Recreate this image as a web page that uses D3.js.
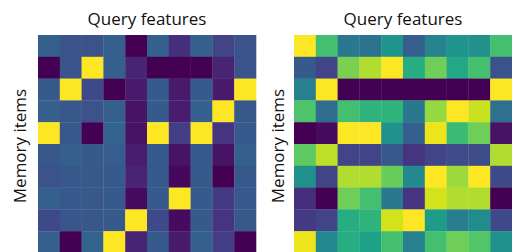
<!doctype html>
<html>
<head>
<meta charset="utf-8">
<script src="https://cdn.jsdelivr.net/npm/d3@7"></script>
<style>
  body { margin: 0; background: #fff; }
  text { font-family: "Open Sans", "Noto Sans", sans-serif; fill: #111; }
</style>
</head>
<body>
<svg width="512" height="252"></svg>
<script>
  // attention-like weights, rows = memory items, cols = query features
  let leftVals = [
    [0.30, 0.25, 0.25, 0.30, 0.00, 0.30, 0.13, 0.30, 0.20, 0.25],
    [0.00, 0.25, 1.00, 0.30, 0.10, 0.00, 0.00, 0.00, 0.10, 0.25],
    [0.28, 1.00, 0.22, 0.00, 0.07, 0.28, 0.07, 0.28, 0.07, 1.00],
    [0.30, 0.27, 0.25, 0.30, 0.05, 0.28, 0.08, 0.30, 1.00, 0.27],
    [1.00, 0.27, 0.00, 0.32, 0.05, 1.00, 0.18, 1.00, 0.15, 0.28],
    [0.27, 0.30, 0.28, 0.29, 0.08, 0.28, 0.05, 0.28, 0.05, 0.30],
    [0.25, 0.27, 0.27, 0.28, 0.10, 0.28, 0.02, 0.28, 0.00, 0.27],
    [0.30, 0.27, 0.27, 0.28, 0.03, 0.28, 1.00, 0.28, 0.17, 0.27],
    [0.22, 0.26, 0.27, 0.28, 1.00, 0.22, 0.03, 0.28, 0.15, 0.27],
    [0.30, 0.00, 0.32, 1.00, 0.10, 0.28, 0.07, 0.30, 0.18, 0.00]
  ]

  let rightVals = [
    [1.00, 0.70, 0.40, 0.38, 0.52, 0.30, 0.45, 0.52, 0.50, 0.70],
    [0.28, 0.20, 0.80, 0.88, 1.00, 0.62, 0.78, 0.60, 0.70, 0.25],
    [0.43, 1.00, 0.00, 0.00, 0.00, 0.00, 0.00, 0.00, 0.00, 1.00],
    [0.72, 0.35, 0.70, 0.65, 0.65, 0.40, 0.84, 1.00, 0.92, 0.37],
    [0.00, 0.03, 1.00, 1.00, 0.50, 0.30, 0.97, 0.68, 0.78, 0.05],
    [0.75, 0.90, 0.20, 0.20, 0.27, 0.15, 0.20, 0.23, 0.23, 0.88],
    [0.50, 0.20, 0.88, 0.88, 0.77, 0.47, 1.00, 0.85, 1.00, 0.22],
    [0.13, 0.00, 0.78, 0.70, 0.40, 0.15, 0.93, 0.88, 0.88, 0.00],
    [0.17, 0.20, 0.62, 0.65, 0.93, 1.00, 0.55, 0.42, 0.48, 0.22],
    [0.97, 0.47, 0.62, 0.57, 0.70, 0.43, 0.70, 0.78, 0.73, 0.50]
  ]

  let titles = ["Query features", "Query features"]
  let yLabels = ["Memory items", "Memory items"]

  let svg = d3.select("svg")
  let size = 218
  let panels = [
    { vals: leftVals, x0: 38, y0: 35, title: titles[0], ylab: yLabels[0], labX: 25.5 },
    { vals: rightVals, x0: 294, y0: 35, title: titles[1], ylab: yLabels[1], labX: 283.5 }
  ]

  let color = d3.scaleSequential(d3.interpolateViridis).domain([0, 1])

  for (let p of panels) {
    let idx = d3.range(10)
    let x = d3.scaleBand().domain(idx).range([p.x0, p.x0 + size])
    let y = d3.scaleBand().domain(idx).range([p.y0, p.y0 + size])

    let cells = []
    p.vals.forEach((row, r) => row.forEach((v, c) => cells.push({ r, c, v })))

    svg.append("g")
      .selectAll("rect")
      .data(cells)
      .enter().append("rect")
        .attr("x", d => x(d.c))
        .attr("y", d => y(d.r))
        .attr("width", x.bandwidth() + 0.3)
        .attr("height", y.bandwidth() + 0.3)
        .attr("fill", d => color(d.v))

    svg.append("text")
      .attr("x", p.x0 + size / 2)
      .attr("y", 25)
      .attr("text-anchor", "middle")
      .attr("font-size", 17)
      .text(p.title)

    svg.append("text")
      .attr("transform", `translate(${p.labX},${p.y0 + 111}) rotate(-90)`)
      .attr("text-anchor", "middle")
      .attr("font-size", 17)
      .text(p.ylab)
  }
</script>
</body>
</html>
